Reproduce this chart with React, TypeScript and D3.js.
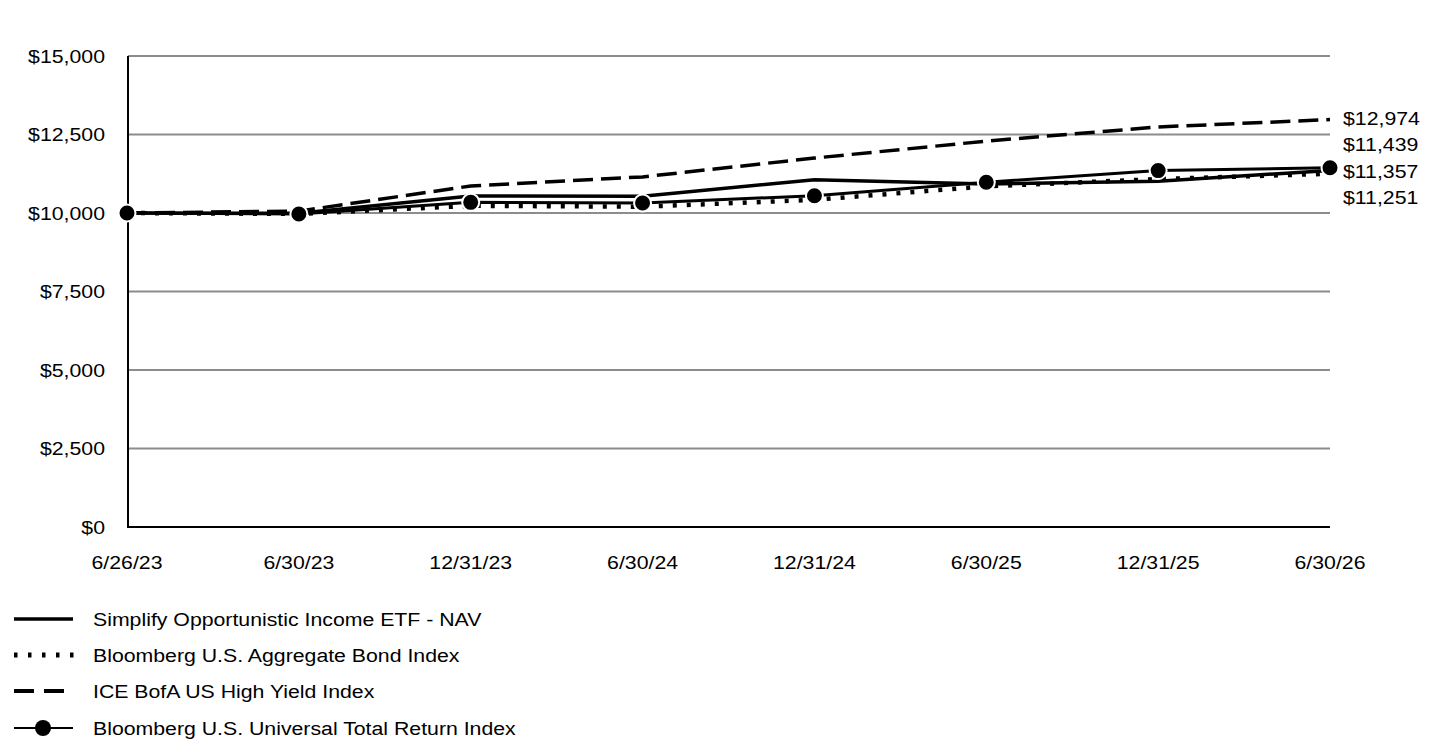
import React, { useRef, useEffect } from 'react';
import * as d3 from 'd3';

const dates = ['6/26/23', '6/30/23', '12/31/23', '6/30/24', '12/31/24', '6/30/25', '12/31/25', '6/30/26'];
const navValues = [10000, 9990, 10540, 10530, 11060, 10920, 11010, 11357];
const aggValues = [10000, 9970, 10230, 10200, 10420, 10850, 11080, 11251];
const hyValues = [10000, 10060, 10860, 11150, 11750, 12290, 12740, 12974];
const univValues = [10000, 9970, 10340, 10320, 10550, 10980, 11350, 11439];
const yTicks = [0, 2500, 5000, 7500, 10000, 12500, 15000];

const seriesNames = [
  'Simplify Opportunistic Income ETF - NAV',
  'Bloomberg U.S. Aggregate Bond Index',
  'ICE BofA US High Yield Index',
  'Bloomberg U.S. Universal Total Return Index',
];

const width = 1440;
const height = 744;
const font = '"Liberation Sans", Arial, sans-serif';
const stretch = 1.12; // text in the original is a little wide

const App: React.FC = () => {
  const svgRef = useRef<SVGSVGElement>(null);

  useEffect(() => {
    if (!svgRef.current) return;
    const svg = d3.select(svgRef.current);
    svg.selectAll('*').remove();

    const x = d3.scalePoint().domain(dates).range([127, 1330]).padding(0);
    const y = d3.scaleLinear().domain([0, 15000]).range([527, 56]);
    const fmt = (v: number) => '$' + d3.format(',')(v);
    const place = (tx: number, ty: number) => `translate(${tx},${ty}) scale(${stretch},1)`;

    // Grid lines
    svg.append('g')
      .selectAll('line')
      .data(yTicks.filter(t => t > 0))
      .enter()
      .append('line')
      .attr('x1', 128)
      .attr('x2', 1330)
      .attr('y1', d => y(d))
      .attr('y2', d => y(d))
      .attr('stroke', '#8c8c8c')
      .attr('stroke-width', 2);

    // Axes
    svg.append('line')
      .attr('x1', 128).attr('x2', 128)
      .attr('y1', y(15000)).attr('y2', y(0) + 1)
      .attr('stroke', '#000').attr('stroke-width', 2);
    svg.append('line')
      .attr('x1', 127).attr('x2', 1330)
      .attr('y1', y(0)).attr('y2', y(0))
      .attr('stroke', '#000').attr('stroke-width', 2);

    // Y tick labels
    svg.append('g')
      .selectAll('text')
      .data(yTicks)
      .enter()
      .append('text')
      .attr('transform', d => place(105, y(d)))
      .attr('dy', '0.35em')
      .attr('text-anchor', 'end')
      .attr('font-family', font)
      .attr('font-size', 19)
      .text(d => fmt(d));

    // X tick labels
    svg.append('g')
      .selectAll('text')
      .data(dates)
      .enter()
      .append('text')
      .attr('transform', d => place(x(d) || 0, 562))
      .attr('dy', '0.35em')
      .attr('text-anchor', 'middle')
      .attr('font-family', font)
      .attr('font-size', 19)
      .text(d => d);

    const line = d3.line<number>()
      .x((_, i) => x(dates[i]) || 0)
      .y(d => y(d));

    // HY dashed
    svg.append('path')
      .datum(hyValues)
      .attr('fill', 'none')
      .attr('stroke', '#000')
      .attr('stroke-width', 3.5)
      .attr('stroke-dasharray', '20,8')
      .attr('d', line);

    // Aggregate dotted
    svg.append('path')
      .datum(aggValues)
      .attr('fill', 'none')
      .attr('stroke', '#000')
      .attr('stroke-width', 4.5)
      .attr('stroke-dasharray', '4,10')
      .attr('d', line);

    // NAV solid
    svg.append('path')
      .datum(navValues)
      .attr('fill', 'none')
      .attr('stroke', '#000')
      .attr('stroke-width', 3.5)
      .attr('d', line);

    // Universal with markers
    svg.append('path')
      .datum(univValues)
      .attr('fill', 'none')
      .attr('stroke', '#000')
      .attr('stroke-width', 3)
      .attr('d', line);

    svg.append('g')
      .selectAll('circle')
      .data(univValues)
      .enter()
      .append('circle')
      .attr('cx', (_, i) => x(dates[i]) || 0)
      .attr('cy', d => y(d))
      .attr('r', 8.5)
      .attr('fill', '#000')
      .attr('stroke', '#fff')
      .attr('stroke-width', 2);

    // End labels, spread apart so they do not overlap
    const finals = [hyValues, univValues, navValues, aggValues].map(s => s[s.length - 1]);
    const gap = 26.5;
    type Grp = { items: number[]; mean: number };
    const groups: Grp[] = [];
    finals.map(v => y(v)).sort((a, b) => a - b).forEach(t => {
      groups.push({ items: [t], mean: t });
      let merged = true;
      while (merged && groups.length > 1) {
        merged = false;
        const a = groups[groups.length - 2];
        const b = groups[groups.length - 1];
        const aBottom = a.mean + (a.items.length - 1) * gap / 2;
        const bTop = b.mean - (b.items.length - 1) * gap / 2;
        if (bTop - aBottom < gap) {
          const items = a.items.concat(b.items);
          groups.splice(groups.length - 2, 2, { items, mean: d3.mean(items) as number });
          merged = true;
        }
      }
    });
    const labelYs: number[] = [];
    groups.forEach(g => {
      const start = g.mean - (g.items.length - 1) * gap / 2;
      g.items.forEach((_, i) => labelYs.push(start + i * gap));
    });
    const sortedFinals = finals.slice().sort((a, b) => b - a);

    svg.append('g')
      .selectAll('text')
      .data(sortedFinals)
      .enter()
      .append('text')
      .attr('transform', (_, i) => place(1343, labelYs[i]))
      .attr('dy', '0.35em')
      .attr('font-family', font)
      .attr('font-size', 19)
      .text(d => fmt(d));

    // Legend
    const legend = svg.append('g');
    const rows = [619, 655, 691, 728];
    seriesNames.forEach((name, i) => {
      const ly = rows[i];
      const l = legend.append('line')
        .attr('x1', 14).attr('x2', 73)
        .attr('y1', ly).attr('y2', ly)
        .attr('stroke', '#000');
      if (i === 0) l.attr('stroke-width', 3.5);
      if (i === 1) l.attr('stroke-width', 5).attr('stroke-dasharray', '3.5,10.5').attr('x2', 74);
      if (i === 2) l.attr('stroke-width', 4).attr('stroke-dasharray', '20,10').attr('x2', 64);
      if (i === 3) {
        l.attr('stroke-width', 2);
        legend.append('circle').attr('cx', 43).attr('cy', ly).attr('r', 8).attr('fill', '#000');
      }
      legend.append('text')
        .attr('transform', place(93, ly))
        .attr('dy', '0.35em')
        .attr('font-family', font)
        .attr('font-size', 19)
        .text(name);
    });
  }, []);

  return (
    <div style={{ position: 'absolute', left: 0, top: 0, background: '#fff' }}>
      <svg ref={svgRef} width={width} height={height} style={{ display: 'block' }} />
    </div>
  );
};

export default App;
